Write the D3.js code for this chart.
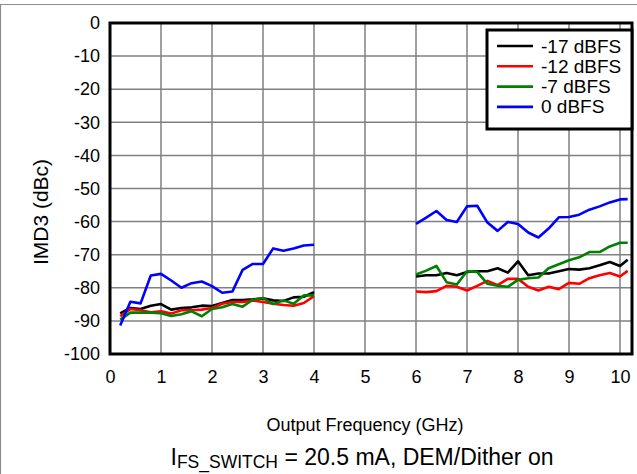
<!DOCTYPE html>
<html><head><meta charset="utf-8">
<script src="https://cdn.jsdelivr.net/npm/d3@7"></script>
<style>html,body{margin:0;padding:0;background:#fff;}svg{display:block;font-family:"Liberation Sans",Arial,sans-serif;}</style>
</head><body>
<svg id="c" width="637" height="474"></svg>
<script>
// Data
const freqLow = [0.2,0.4,0.6,0.8,1.0,1.2,1.4,1.6,1.8,2.0,2.2,2.4,2.6,2.8,3.0,3.2,3.4,3.6,3.8,4.0];
const freqHigh = [6.0,6.2,6.4,6.6,6.8,7.0,7.2,7.4,7.6,7.8,8.0,8.2,8.4,8.6,8.8,9.0,9.2,9.4,9.6,9.8,10.0,10.15];
const seriesNames = ["-17 dBFS","-12 dBFS","-7 dBFS","0 dBFS"];
const seriesColors = ["#000000","#ff0000","#008000","#0000ff"];
const m17Low = [-87.7,-86.1,-86.4,-85.4,-84.9,-86.6,-86.1,-85.9,-85.4,-85.5,-84.6,-83.7,-83.7,-83.5,-83.2,-83.8,-84.0,-82.9,-82.7,-81.3];
const m12Low = [-88.6,-86.4,-86.8,-87.4,-87.1,-87.8,-86.8,-86.8,-86.6,-86.1,-84.8,-84.3,-84.3,-83.8,-84.3,-84.8,-85.2,-85.4,-84.6,-82.5];
const m7Low  = [-89.6,-87.5,-87.5,-87.5,-87.7,-88.5,-88.0,-87.1,-88.6,-86.4,-85.9,-84.9,-85.7,-83.6,-83.1,-84.9,-83.8,-84.8,-82.3,-82.3];
const m0Low  = [-91.4,-84.2,-84.7,-76.3,-75.8,-77.8,-80.0,-78.6,-78.1,-79.5,-81.5,-81.1,-74.6,-72.8,-72.8,-68.1,-68.8,-68.1,-67.2,-67.0];
const m17High = [-76.6,-76.2,-76.2,-75.5,-76.2,-75.2,-75.0,-75.0,-74.1,-75.4,-72.0,-76.2,-75.7,-75.7,-75.0,-74.3,-74.5,-74.1,-73.2,-72.2,-73.4,-71.5];
const m12High = [-81.1,-81.3,-81.0,-79.4,-79.7,-80.8,-79.4,-77.9,-79.2,-77.3,-77.3,-79.7,-80.8,-79.7,-80.4,-78.5,-78.8,-77.1,-76.2,-75.5,-76.6,-74.9];
const m7High  = [-76.0,-74.8,-73.4,-78.3,-79.0,-75.0,-75.2,-78.8,-79.4,-79.7,-77.6,-77.1,-76.9,-74.1,-72.9,-71.7,-70.8,-69.2,-69.2,-67.5,-66.4,-66.4];
const m0High  = [-60.7,-58.8,-56.8,-59.5,-60.1,-55.4,-55.2,-60.3,-62.8,-60.1,-60.7,-63.3,-64.8,-62.1,-58.7,-58.6,-57.9,-56.4,-55.4,-54.2,-53.3,-53.2];
const xTicks = [0,1,2,3,4,5,6,7,8,9,10];
const yTicks = [0,-10,-20,-30,-40,-50,-60,-70,-80,-90,-100];

const lowSets = [m17Low,m12Low,m7Low,m0Low];
const highSets = [m17High,m12High,m7High,m0High];

const svg = d3.select("#c");
// outer frame
svg.append("path").attr("d","M0.5,474 L0.5,4.5 L637,4.5").attr("fill","none").attr("stroke","#8c8c8c").attr("stroke-width",1.2);

const L=110, R=632, T=23, B=354;
const x = d3.scaleLinear().domain([0,10.235]).range([L,R]);
const y = d3.scaleLinear().domain([-100,0]).range([B,T]);

// grid
const g = svg.append("g");
g.selectAll(".vg").data(xTicks.filter(d=>d>0)).join("line")
  .attr("x1",d=>x(d)).attr("x2",d=>x(d)).attr("y1",T).attr("y2",B)
  .attr("stroke","#808080").attr("stroke-width",1.5);
g.selectAll(".hg").data(yTicks.filter(d=>d>-100&&d<0)).join("line")
  .attr("x1",L).attr("x2",R).attr("y1",d=>y(d)).attr("y2",d=>y(d))
  .attr("stroke","#808080").attr("stroke-width",1.5);

// axes labels via d3 axes
const xAxis = d3.axisBottom(x).tickValues(xTicks).tickSize(0).tickPadding(16).tickFormat(d=>String(d));
const yAxis = d3.axisLeft(y).tickValues(yTicks).tickSize(0).tickPadding(10).tickFormat(d=>String(d));
const gx = svg.append("g").attr("transform",`translate(0,${B})`).call(xAxis);
const gy = svg.append("g").attr("transform",`translate(${L},0)`).call(yAxis);
[gx,gy].forEach(a=>{a.select(".domain").remove();a.selectAll("text").attr("font-size",18).attr("fill","#000").attr("font-family","Liberation Sans, Arial, sans-serif");});

// data lines
const line = d3.line().x(d=>x(d[0])).y(d=>y(d[1]));
const clipId="clp";
svg.append("clipPath").attr("id",clipId).append("rect").attr("x",L).attr("y",T).attr("width",R-L).attr("height",B-T);
const dg = svg.append("g").attr("clip-path",`url(#${clipId})`);
seriesNames.forEach((n,i)=>{
  dg.append("path").datum(freqLow.map((f,j)=>[f,lowSets[i][j]])).attr("d",line)
    .attr("fill","none").attr("stroke",seriesColors[i]).attr("stroke-width",2.6).attr("stroke-linejoin","round");
  dg.append("path").datum(freqHigh.map((f,j)=>[f,highSets[i][j]])).attr("d",line)
    .attr("fill","none").attr("stroke",seriesColors[i]).attr("stroke-width",2.6).attr("stroke-linejoin","round");
});

// plot frame
svg.append("rect").attr("x",L).attr("y",T).attr("width",R-L).attr("height",B-T)
  .attr("fill","none").attr("stroke","#000").attr("stroke-width",3);

// legend
const lg = svg.append("g");
const LX=487, LY=30, LW=R-LX, LH=99;
lg.append("rect").attr("x",LX).attr("y",LY).attr("width",LW).attr("height",LH).attr("fill","#fff").attr("stroke","#000").attr("stroke-width",3);
seriesNames.forEach((n,i)=>{
  const yy = 46 + i*20.3;
  lg.append("line").attr("x1",497).attr("x2",533).attr("y1",yy).attr("y2",yy).attr("stroke",seriesColors[i]).attr("stroke-width",2.6);
  lg.append("text").attr("x",541).attr("y",yy+6.5).attr("font-size",19).text(n);
});

// titles
svg.append("text").attr("x",365).attr("y",431).attr("text-anchor","middle").attr("font-size",18).text("Output Frequency (GHz)");
svg.append("text").attr("transform",`translate(48,212) rotate(-90)`).attr("text-anchor","middle").attr("font-size",21).text("IMD3 (dBc)");
const fn = svg.append("text").attr("x",362).attr("y",465).attr("text-anchor","middle").attr("font-size",23);
fn.append("tspan").text("I");
fn.append("tspan").attr("font-size",17.5).attr("dy",3).text("FS_SWITCH");
fn.append("tspan").attr("dy",-3).text(" = 20.5 mA, DEM/Dither on");
</script>
</body></html>
